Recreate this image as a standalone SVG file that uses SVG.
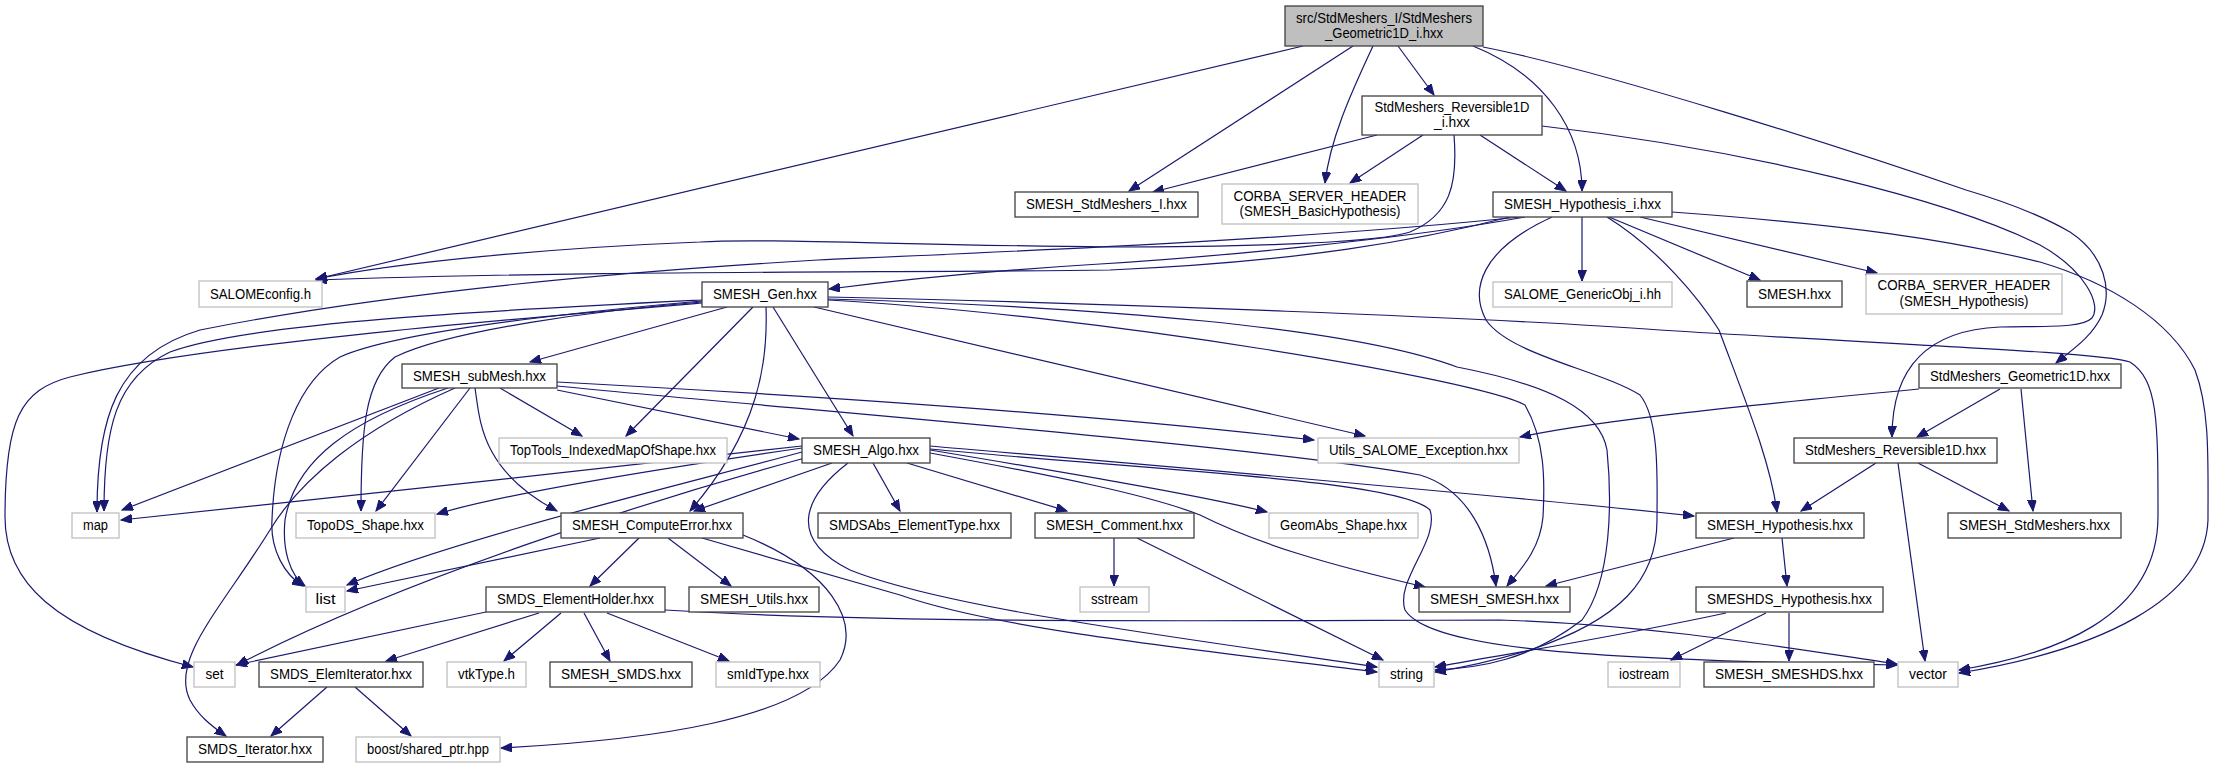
<svg xmlns="http://www.w3.org/2000/svg" width="2215" height="768" viewBox="0 0 2215 768">
<style>
.n rect{fill:#fff;stroke:#404040;stroke-width:1.3}
.g rect{fill:#fff;stroke:#bfbfbf;stroke-width:1.3}
.r rect{fill:#bfbfbf;stroke:#404040;stroke-width:1.3}
text{font-family:"Liberation Sans",Arial,sans-serif;font-size:14px;text-anchor:middle;fill:#000}
#edges path{fill:none;stroke:#191970;stroke-width:1.2;marker-end:url(#a)}
</style>
<defs>
<marker id="a" markerWidth="12" markerHeight="9" refX="11" refY="4.5" orient="auto" markerUnits="userSpaceOnUse">
<path d="M0,0 L11,4.5 L0,9 z" fill="#191970" stroke="#191970" stroke-width="1"/>
</marker>
</defs>
<rect width="2215" height="768" fill="#fff"/>
<g id="edges">
<path d="M1303,46 L316,279"/>
<path d="M1353,46 L1129,191"/>
<path d="M1373,46 C1350,95 1330,140 1325,183"/>
<path d="M1398,46 L1434,95"/>
<path d="M1473,46 C1545,75 1582,130 1582,191"/>
<path d="M1483,47 C1600,70 1850,150 1966,190 C2010,203 2044,217 2070,232 C2105,255 2112,290 2102,315 C2092,337 2072,350 2056,363"/>
<path d="M1377,135 L1153,192"/>
<path d="M1423,135 L1350,183"/>
<path d="M1480,135 L1566,191"/>
<path d="M1454,135 C1458,185 1450,215 1410,232 C1370,245 1200,247 1110,247 C900,245 760,238 700,242 C550,248 400,262 316,279"/>
<path d="M1542,126 C1750,150 1950,200 2040,245 C2085,270 2102,305 2092,318 C2082,328 2050,326 2000,327 C1930,330 1892,365 1892,437"/>
<path d="M1525,217 C1400,240 1200,258 1100,264 C1000,270 900,280 829,289"/>
<path d="M1510,217 C1420,240 1300,262 1110,270 C900,273 600,270 316,280"/>
<path d="M1520,217 C1300,240 1000,252 818,260 C650,270 400,290 200,330 C115,355 97,420 97,512"/>
<path d="M1582,217 L1582,281"/>
<path d="M1609,217 L1760,280"/>
<path d="M1640,217 L1877,273"/>
<path d="M1607,217 C1660,250 1700,300 1719,330 C1745,400 1770,460 1777,512"/>
<path d="M1552,217 C1480,250 1470,290 1486,320 C1510,355 1600,370 1640,395 C1660,420 1657,480 1657,520 C1657,580 1620,620 1530,650 C1490,662 1460,668 1435,672"/>
<path d="M1672,212 C1850,225 1950,240 2040,262 C2110,283 2170,320 2195,370 C2210,410 2208,460 2208,520 C2205,600 2100,650 1959,673"/>
<path d="M727,307 L530,362"/>
<path d="M702,300 C500,310 250,322 170,352 C115,378 104,430 104,511"/>
<path d="M702,302 C600,310 450,330 395,357 C365,380 361,430 361,511"/>
<path d="M702,301 C600,310 400,330 340,357 C300,380 275,440 272,520 C270,550 285,575 303,586"/>
<path d="M702,303 C500,320 200,345 70,377 C20,390 5,420 5,517 C5,580 50,630 193,667"/>
<path d="M753,307 L626,436"/>
<path d="M773,307 L853,436"/>
<path d="M766,307 C768,360 760,430 690,511"/>
<path d="M814,307 L1365,436"/>
<path d="M828,297 C1100,303 1500,318 1660,330 C1900,345 2100,352 2130,362 C2158,380 2158,420 2158,516 C2158,620 2050,655 1959,670"/>
<path d="M828,300 C1100,315 1480,380 1525,405 C1545,440 1545,480 1543,517 C1540,550 1520,570 1507,586"/>
<path d="M828,299 C1100,307 1350,327 1457,367 C1550,385 1600,410 1607,450 C1612,500 1612,580 1582,620 C1530,660 1480,668 1435,670"/>
<path d="M439,388 L122,510"/>
<path d="M448,388 C350,420 295,460 285,520 C282,550 290,575 305,586"/>
<path d="M470,388 L376,511"/>
<path d="M455,388 C360,430 300,480 270,530 C220,610 170,660 190,700 C198,715 210,725 226,736"/>
<path d="M475,388 C480,420 480,470 557,511"/>
<path d="M500,388 L582,436"/>
<path d="M557,390 L799,439"/>
<path d="M557,382 C800,395 1100,415 1314,440"/>
<path d="M557,386 C800,410 1250,445 1420,475 C1470,490 1490,540 1496,586"/>
<path d="M802,446 C600,470 300,500 121,520"/>
<path d="M802,448 C650,470 500,495 437,514"/>
<path d="M802,452 C700,480 450,540 347,585"/>
<path d="M805,458 C650,500 400,580 237,665"/>
<path d="M832,463 L694,511"/>
<path d="M873,463 L900,511"/>
<path d="M907,463 L1067,511"/>
<path d="M930,450 C1050,470 1200,495 1267,512"/>
<path d="M930,446 C1150,465 1500,495 1694,516"/>
<path d="M930,453 C1050,475 1150,495 1200,515 C1260,545 1330,565 1425,587"/>
<path d="M930,449 C1150,470 1400,480 1430,510 C1440,540 1395,580 1405,610 C1430,650 1600,660 1897,665"/>
<path d="M848,463 C800,500 790,540 850,570 C950,610 1200,640 1377,667"/>
<path d="M600,538 L347,591"/>
<path d="M639,538 L590,586"/>
<path d="M668,538 L731,586"/>
<path d="M702,538 C780,560 850,580 900,595 C1000,630 1200,650 1377,672"/>
<path d="M743,535 C830,570 860,620 840,660 C800,720 650,740 501,748"/>
<path d="M1114,538 L1114,586"/>
<path d="M1137,538 L1383,660"/>
<path d="M486,612 L236,665"/>
<path d="M539,613 L386,661"/>
<path d="M561,613 L504,661"/>
<path d="M584,613 L610,661"/>
<path d="M607,613 L729,661"/>
<path d="M665,610 C900,625 1300,620 1500,620 C1660,625 1800,650 1897,664"/>
<path d="M327,687 L271,736"/>
<path d="M355,687 L411,736"/>
<path d="M1734,538 L1546,586"/>
<path d="M1782,538 L1787,586"/>
<path d="M1726,613 C1600,640 1500,655 1435,667"/>
<path d="M1766,613 L1671,660"/>
<path d="M1789,613 L1789,661"/>
<path d="M1876,463 L1801,511"/>
<path d="M1918,463 L2009,511"/>
<path d="M1898,463 L1925,661"/>
<path d="M2000,389 L1917,437"/>
<path d="M2021,389 L2033,511"/>
<path d="M1919,389 C1750,405 1600,420 1520,437"/>
</g>
<g id="root" class="r"><rect x="1285" y="6" width="198" height="40"/><text x="1384" y="22.5" textLength="176" lengthAdjust="spacingAndGlyphs">src/StdMeshers_I/StdMeshers</text><text x="1384" y="38" textLength="118" lengthAdjust="spacingAndGlyphs">_Geometric1D_i.hxx</text></g>
<g id="rev_i" class="n"><rect x="1362" y="96" width="180" height="39"/><text x="1452" y="112" textLength="155" lengthAdjust="spacingAndGlyphs">StdMeshers_Reversible1D</text><text x="1452" y="127" textLength="36" lengthAdjust="spacingAndGlyphs">_i.hxx</text></g>
<g id="stdI" class="n"><rect x="1015" y="192" width="183" height="25"/><text x="1106.5" y="209" textLength="161" lengthAdjust="spacingAndGlyphs">SMESH_StdMeshers_I.hxx</text></g>
<g id="corbaB" class="g"><rect x="1222" y="184" width="196" height="40"/><text x="1320" y="201" textLength="173" lengthAdjust="spacingAndGlyphs">CORBA_SERVER_HEADER</text><text x="1320" y="215.5" textLength="161" lengthAdjust="spacingAndGlyphs">(SMESH_BasicHypothesis)</text></g>
<g id="hypi" class="n"><rect x="1493" y="192" width="179" height="25"/><text x="1582.5" y="209" textLength="157" lengthAdjust="spacingAndGlyphs">SMESH_Hypothesis_i.hxx</text></g>
<g id="salcfg" class="g"><rect x="199" y="281" width="123" height="26"/><text x="260.5" y="298.5" textLength="101" lengthAdjust="spacingAndGlyphs">SALOMEconfig.h</text></g>
<g id="gen" class="n"><rect x="702" y="282" width="126" height="25"/><text x="765" y="299" textLength="104" lengthAdjust="spacingAndGlyphs">SMESH_Gen.hxx</text></g>
<g id="genobj" class="g"><rect x="1493" y="282" width="179" height="25"/><text x="1582.5" y="299" textLength="157" lengthAdjust="spacingAndGlyphs">SALOME_GenericObj_i.hh</text></g>
<g id="smesh" class="n"><rect x="1747" y="281" width="95" height="26"/><text x="1794.5" y="298.5" textLength="73" lengthAdjust="spacingAndGlyphs">SMESH.hxx</text></g>
<g id="corbaH" class="g"><rect x="1866" y="274" width="196" height="40"/><text x="1964" y="290" textLength="173" lengthAdjust="spacingAndGlyphs">CORBA_SERVER_HEADER</text><text x="1964" y="305.5" textLength="129" lengthAdjust="spacingAndGlyphs">(SMESH_Hypothesis)</text></g>
<g id="submesh" class="n"><rect x="402" y="364" width="155" height="24"/><text x="479.5" y="380.5" textLength="133" lengthAdjust="spacingAndGlyphs">SMESH_subMesh.hxx</text></g>
<g id="geo1d" class="n"><rect x="1919" y="364" width="202" height="24"/><text x="2020" y="380.5" textLength="180" lengthAdjust="spacingAndGlyphs">StdMeshers_Geometric1D.hxx</text></g>
<g id="toptools" class="g"><rect x="499" y="438" width="228" height="25"/><text x="613" y="455" textLength="206" lengthAdjust="spacingAndGlyphs">TopTools_IndexedMapOfShape.hxx</text></g>
<g id="algo" class="n"><rect x="802" y="438" width="128" height="25"/><text x="866" y="455" textLength="106" lengthAdjust="spacingAndGlyphs">SMESH_Algo.hxx</text></g>
<g id="utils" class="g"><rect x="1318" y="438" width="201" height="25"/><text x="1418.5" y="455" textLength="179" lengthAdjust="spacingAndGlyphs">Utils_SALOME_Exception.hxx</text></g>
<g id="rev1d" class="n"><rect x="1794" y="438" width="203" height="25"/><text x="1895.5" y="455" textLength="181" lengthAdjust="spacingAndGlyphs">StdMeshers_Reversible1D.hxx</text></g>
<g id="map" class="g"><rect x="72" y="513" width="47" height="25"/><text x="95.5" y="530" textLength="25" lengthAdjust="spacingAndGlyphs">map</text></g>
<g id="topods" class="g"><rect x="296" y="513" width="139" height="25"/><text x="365.5" y="530" textLength="117" lengthAdjust="spacingAndGlyphs">TopoDS_Shape.hxx</text></g>
<g id="comperr" class="n"><rect x="561" y="513" width="182" height="25"/><text x="652" y="530" textLength="160" lengthAdjust="spacingAndGlyphs">SMESH_ComputeError.hxx</text></g>
<g id="smdsabs" class="n"><rect x="818" y="513" width="193" height="25"/><text x="914.5" y="530" textLength="171" lengthAdjust="spacingAndGlyphs">SMDSAbs_ElementType.hxx</text></g>
<g id="comment" class="n"><rect x="1035" y="513" width="159" height="25"/><text x="1114.5" y="530" textLength="137" lengthAdjust="spacingAndGlyphs">SMESH_Comment.hxx</text></g>
<g id="geomabs" class="g"><rect x="1269" y="513" width="149" height="25"/><text x="1343.5" y="530" textLength="127" lengthAdjust="spacingAndGlyphs">GeomAbs_Shape.hxx</text></g>
<g id="hyp" class="n"><rect x="1696" y="513" width="168" height="25"/><text x="1780" y="530" textLength="146" lengthAdjust="spacingAndGlyphs">SMESH_Hypothesis.hxx</text></g>
<g id="stdm" class="n"><rect x="1948" y="513" width="173" height="25"/><text x="2034.5" y="530" textLength="151" lengthAdjust="spacingAndGlyphs">SMESH_StdMeshers.hxx</text></g>
<g id="list" class="g"><rect x="306" y="587" width="39" height="25"/><text x="325.5" y="604" textLength="20" lengthAdjust="spacingAndGlyphs">list</text></g>
<g id="eh" class="n"><rect x="486" y="587" width="179" height="25"/><text x="575.5" y="604" textLength="157" lengthAdjust="spacingAndGlyphs">SMDS_ElementHolder.hxx</text></g>
<g id="utils2" class="n"><rect x="689" y="587" width="130" height="25"/><text x="754" y="604" textLength="108" lengthAdjust="spacingAndGlyphs">SMESH_Utils.hxx</text></g>
<g id="sstream" class="g"><rect x="1080" y="587" width="69" height="25"/><text x="1114.5" y="604" textLength="47" lengthAdjust="spacingAndGlyphs">sstream</text></g>
<g id="smeshsmesh" class="n"><rect x="1419" y="587" width="151" height="25"/><text x="1494.5" y="604" textLength="129" lengthAdjust="spacingAndGlyphs">SMESH_SMESH.hxx</text></g>
<g id="dshyp" class="n"><rect x="1696" y="587" width="187" height="25"/><text x="1789.5" y="604" textLength="165" lengthAdjust="spacingAndGlyphs">SMESHDS_Hypothesis.hxx</text></g>
<g id="set" class="g"><rect x="194" y="662" width="41" height="25"/><text x="214.5" y="679" textLength="18" lengthAdjust="spacingAndGlyphs">set</text></g>
<g id="elemit" class="n"><rect x="259" y="662" width="164" height="25"/><text x="341" y="679" textLength="142" lengthAdjust="spacingAndGlyphs">SMDS_ElemIterator.hxx</text></g>
<g id="vtk" class="g"><rect x="447" y="662" width="79" height="25"/><text x="486.5" y="679" textLength="57" lengthAdjust="spacingAndGlyphs">vtkType.h</text></g>
<g id="smds" class="n"><rect x="550" y="662" width="142" height="25"/><text x="621" y="679" textLength="120" lengthAdjust="spacingAndGlyphs">SMESH_SMDS.hxx</text></g>
<g id="smid" class="g"><rect x="716" y="662" width="104" height="25"/><text x="768" y="679" textLength="82" lengthAdjust="spacingAndGlyphs">smIdType.hxx</text></g>
<g id="string" class="g"><rect x="1379" y="662" width="55" height="25"/><text x="1406.5" y="679" textLength="33" lengthAdjust="spacingAndGlyphs">string</text></g>
<g id="iostream" class="g"><rect x="1608" y="662" width="72" height="25"/><text x="1644" y="679" textLength="50" lengthAdjust="spacingAndGlyphs">iostream</text></g>
<g id="smeshds" class="n"><rect x="1704" y="662" width="170" height="25"/><text x="1789" y="679" textLength="148" lengthAdjust="spacingAndGlyphs">SMESH_SMESHDS.hxx</text></g>
<g id="vector" class="g"><rect x="1898" y="662" width="60" height="25"/><text x="1928" y="679" textLength="38" lengthAdjust="spacingAndGlyphs">vector</text></g>
<g id="smdsit" class="n"><rect x="187" y="737" width="136" height="25"/><text x="255" y="754" textLength="114" lengthAdjust="spacingAndGlyphs">SMDS_Iterator.hxx</text></g>
<g id="boost" class="g"><rect x="356" y="737" width="144" height="25"/><text x="428" y="754" textLength="122" lengthAdjust="spacingAndGlyphs">boost/shared_ptr.hpp</text></g>
</svg>
